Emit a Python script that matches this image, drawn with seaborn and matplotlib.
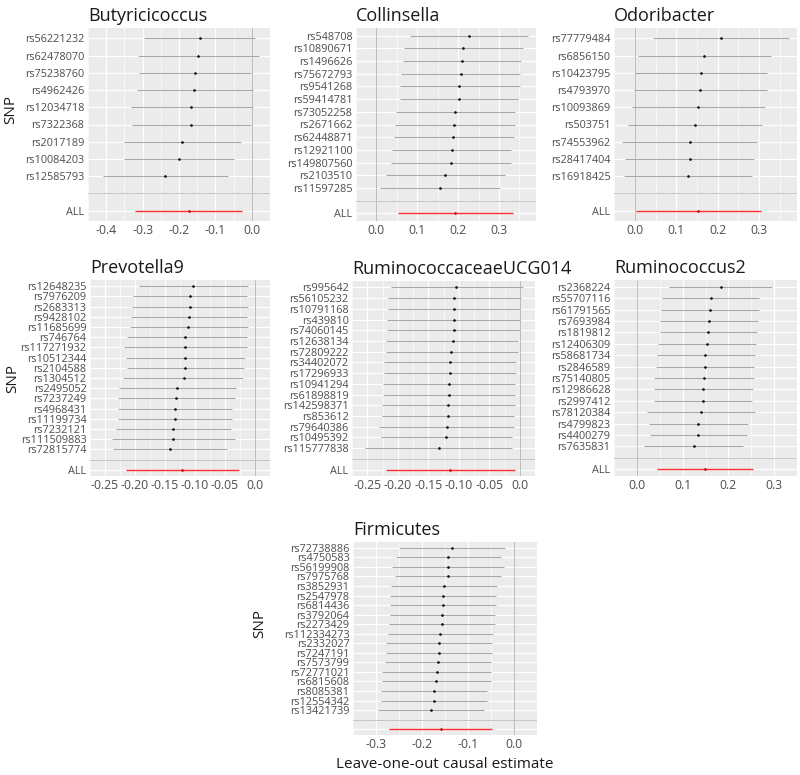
import numpy as np
import pandas as pd
import matplotlib
matplotlib.use("Agg")
import matplotlib.pyplot as plt
import seaborn as sns

# ---------------- data ----------------
butyr_snp = ["rs56221232", "rs62478070", "rs75238760", "rs4962426", "rs12034718",
             "rs7322368", "rs2017189", "rs10084203", "rs12585793"]
butyr_b = [-0.143, -0.147, -0.156, -0.158, -0.166, -0.167, -0.191, -0.201, -0.238]
butyr_lo = [-0.296, -0.314, -0.311, -0.316, -0.333, -0.329, -0.350, -0.352, -0.409]
butyr_hi = [0.010, 0.021, -0.001, 0.003, 0.002, -0.003, -0.031, -0.050, -0.066]
butyr_all = [-0.173, -0.321, -0.026]
butyr_ticks = [-0.4, -0.3, -0.2, -0.1, 0.0]
butyr_ticklabels = ["-0.4", "-0.3", "-0.2", "-0.1", "0.0"]

coll_snp = ["rs548708", "rs10890671", "rs1496626", "rs75672793", "rs9541268", "rs59414781",
            "rs73052258", "rs2671662", "rs62448871", "rs12921100", "rs149807560",
            "rs2103510", "rs11597285"]
coll_b = [0.226, 0.212, 0.209, 0.206, 0.203, 0.202, 0.192, 0.190, 0.188, 0.184, 0.183, 0.168, 0.155]
coll_lo = [0.081, 0.067, 0.064, 0.060, 0.057, 0.058, 0.047, 0.045, 0.042, 0.038, 0.036, 0.023, 0.009]
coll_hi = [0.372, 0.358, 0.354, 0.351, 0.351, 0.347, 0.338, 0.338, 0.336, 0.329, 0.329, 0.314, 0.302]
coll_all = [0.193, 0.054, 0.334]
coll_ticks = [0.0, 0.1, 0.2, 0.3]
coll_ticklabels = ["0.0", "0.1", "0.2", "0.3"]

odor_snp = ["rs77779484", "rs6856150", "rs10423795", "rs4793970", "rs10093869",
            "rs503751", "rs74553962", "rs28417404", "rs16918425"]
odor_b = [0.208, 0.167, 0.160, 0.158, 0.153, 0.145, 0.132, 0.132, 0.128]
odor_lo = [0.044, 0.006, 0.000, -0.002, -0.008, -0.017, -0.031, -0.024, -0.028]
odor_hi = [0.372, 0.328, 0.320, 0.320, 0.315, 0.308, 0.296, 0.288, 0.284]
odor_all = [0.153, 0.002, 0.304]
odor_ticks = [0.0, 0.1, 0.2, 0.3]
odor_ticklabels = ["0.0", "0.1", "0.2", "0.3"]

prev_snp = ["rs12648235", "rs7976209", "rs2683313", "rs9428102", "rs11685699", "rs746764",
            "rs117271932", "rs10512344", "rs2104588", "rs1304512", "rs2495052", "rs7237249",
            "rs4968431", "rs11199734", "rs7232121", "rs111509883", "rs72815774"]
prev_b = [-0.104, -0.108, -0.108, -0.110, -0.111, -0.116, -0.116, -0.117, -0.117, -0.119,
          -0.130, -0.132, -0.134, -0.134, -0.136, -0.136, -0.142]
prev_lo = [-0.194, -0.204, -0.205, -0.206, -0.209, -0.214, -0.218, -0.215, -0.214, -0.220,
           -0.227, -0.229, -0.229, -0.229, -0.231, -0.238, -0.236]
prev_hi = [-0.012, -0.013, -0.012, -0.013, -0.012, -0.014, -0.013, -0.017, -0.019, -0.020,
           -0.031, -0.034, -0.038, -0.038, -0.040, -0.033, -0.047]
prev_all = [-0.122, -0.215, -0.026]
prev_ticks = [-0.25, -0.20, -0.15, -0.10, -0.05, 0.0]
prev_ticklabels = ["-0.25", "-0.20", "-0.15", "-0.10", "-0.05", "0.0"]

rucg_snp = ["rs995642", "rs56105232", "rs10791168", "rs439810", "rs74060145", "rs12638134",
            "rs72809222", "rs34402072", "rs17296933", "rs10941294", "rs61898819",
            "rs142598371", "rs853612", "rs79640386", "rs10495392", "rs115777838"]
rucg_b = [-0.104, -0.107, -0.107, -0.108, -0.108, -0.110, -0.112, -0.114, -0.114, -0.116,
          -0.116, -0.118, -0.118, -0.120, -0.121, -0.133]
rucg_lo = [-0.211, -0.216, -0.216, -0.217, -0.217, -0.219, -0.219, -0.222, -0.222, -0.224,
           -0.224, -0.226, -0.226, -0.231, -0.227, -0.253]
rucg_hi = [0.005, 0.002, 0.000, 0.000, 0.000, -0.003, -0.003, -0.006, -0.006, -0.007,
           -0.007, -0.008, -0.009, -0.009, -0.012, -0.012]
rucg_all = [-0.114, -0.219, -0.008]
rucg_ticks = [-0.25, -0.20, -0.15, -0.10, -0.05, 0.0]
rucg_ticklabels = ["-0.25", "-0.20", "-0.15", "-0.10", "-0.05", "0.0"]

rum2_snp = ["rs2368224", "rs55707116", "rs61791565", "rs7693984", "rs1819812", "rs12406309",
            "rs58681734", "rs2846589", "rs75140805", "rs12986628", "rs2997412", "rs78120384",
            "rs4799823", "rs4400279", "rs7635831"]
rum2_b = [0.183, 0.161, 0.160, 0.157, 0.156, 0.154, 0.149, 0.148, 0.146, 0.145, 0.144,
          0.141, 0.134, 0.134, 0.124]
rum2_lo = [0.070, 0.054, 0.053, 0.051, 0.050, 0.047, 0.043, 0.042, 0.038, 0.038, 0.037,
           0.023, 0.026, 0.028, 0.016]
rum2_hi = [0.295, 0.267, 0.267, 0.264, 0.262, 0.261, 0.258, 0.256, 0.255, 0.253, 0.251,
           0.259, 0.243, 0.241, 0.231]
rum2_all = [0.149, 0.045, 0.253]
rum2_ticks = [0.0, 0.1, 0.2, 0.3]
rum2_ticklabels = ["0.0", "0.1", "0.2", "0.3"]

firm_snp = ["rs72738886", "rs4750583", "rs56199908", "rs7975768", "rs3852931", "rs2547978",
            "rs6814436", "rs3792064", "rs2273429", "rs112334273", "rs2332027", "rs7247191",
            "rs7573799", "rs72771021", "rs6815608", "rs8085381", "rs12554342", "rs13421739"]
firm_b = [-0.135, -0.144, -0.144, -0.144, -0.153, -0.154, -0.155, -0.156, -0.157, -0.160,
          -0.163, -0.163, -0.165, -0.168, -0.169, -0.175, -0.175, -0.181]
firm_lo = [-0.250, -0.257, -0.265, -0.258, -0.268, -0.269, -0.270, -0.270, -0.272, -0.275,
           -0.278, -0.278, -0.280, -0.287, -0.287, -0.289, -0.289, -0.295]
firm_hi = [-0.020, -0.029, -0.021, -0.029, -0.037, -0.039, -0.040, -0.042, -0.042, -0.045,
           -0.048, -0.048, -0.049, -0.049, -0.051, -0.059, -0.059, -0.066]
firm_all = [-0.159, -0.271, -0.048]
firm_ticks = [-0.3, -0.2, -0.1, 0.0]
firm_ticklabels = ["-0.3", "-0.2", "-0.1", "0.0"]

# ---------------- style ----------------
sns.set_theme(style="darkgrid", rc={
    "axes.facecolor": "#EBEBEB",
    "grid.color": "white",
    "axes.edgecolor": "none",
})
plt.rcParams["font.family"] = ["Open Sans", "DejaVu Sans"]

W, H = 800, 775
fig = plt.figure(figsize=(8, 7.75), dpi=100)
fig.patch.set_facecolor("white")


def rect(l, t, r, b):
    return [l / W, 1 - b / H, (r - l) / W, (b - t) / H]


def draw(box, title, snps, b, lo, hi, allv, ticks, ticklabels, all_label="ALL"):
    ax = fig.add_axes(rect(*box))
    n = len(snps)
    df = pd.DataFrame({"SNP": snps, "b": b, "lo": lo, "hi": hi})
    df["pos"] = n + 1 - np.arange(n)
    tot = pd.DataFrame({"SNP": ["ALL"], "b": [allv[0]], "lo": [allv[1]],
                        "hi": [allv[2]], "pos": [0]})

    ax.axvline(0, color="#b0b0b0", lw=0.6, zorder=1)
    ax.axhline(1, color="#c4c4c4", lw=0.7, zorder=1)
    ax.hlines(df["pos"], df["lo"], df["hi"], color="#a8a8a8", lw=0.75, zorder=2)
    ax.hlines(tot["pos"], tot["lo"], tot["hi"], color="#ff3030", lw=1.0, zorder=2)
    sns.scatterplot(data=df, x="b", y="pos", ax=ax, color="black", s=3.5,
                    linewidth=0, zorder=3, legend=False)
    sns.scatterplot(data=tot, x="b", y="pos", ax=ax, color="#c00000", s=3.5,
                    linewidth=0, zorder=3, legend=False)

    vals = np.concatenate([df["lo"], df["hi"], tot["lo"], tot["hi"], [0.0]])
    vmin, vmax = vals.min(), vals.max()
    pad = 0.05 * (vmax - vmin)
    ax.set_xlim(vmin - pad, vmax + pad)
    ax.set_ylim(-0.6, n + 1.6)

    ax.set_xticks(ticks, ticklabels)
    step = ticks[1] - ticks[0]
    mids = [ticks[0] - step / 2] + [t + step / 2 for t in ticks]
    ax.set_xticks(mids, minor=True)
    ylabels = [all_label, ""] + list(reversed(snps))
    ax.set_yticks(range(n + 2), ylabels)

    ax.grid(which="major", color="white", lw=0.9)
    ax.grid(which="minor", axis="x", color="white", lw=0.45)
    ax.tick_params(axis="x", which="major", labelsize=8.8, length=1.5, pad=1,
                   colors="#4d4d4d", width=0.5)
    ax.tick_params(axis="y", which="major", labelsize=7.8, length=1.5, pad=1,
                   colors="#4d4d4d", width=0.5)
    ax.tick_params(which="minor", length=0)
    ax.set_xlabel("")
    ax.set_ylabel("")
    for s in ax.spines.values():
        s.set_visible(False)
    ax.set_title(title, loc="left", fontsize=13, pad=5, color="#1a1a1a")
    return ax


draw((88, 28, 270, 221), "Butyricicoccus", butyr_snp, butyr_b, butyr_lo, butyr_hi,
     butyr_all, butyr_ticks, butyr_ticklabels)
draw((356, 28, 536, 221), "Collinsella", coll_snp, coll_b, coll_lo, coll_hi,
     coll_all, coll_ticks, coll_ticklabels)
draw((614, 28, 797, 221), "Odoribacter", odor_snp, odor_b, odor_lo, odor_hi,
     odor_all, odor_ticks, odor_ticklabels)
draw((90, 280, 270, 476), "Prevotella9", prev_snp, prev_b, prev_lo, prev_hi,
     prev_all, prev_ticks, prev_ticklabels)
draw((352, 281, 535, 476), "RuminococcaceaeUCG014", rucg_snp, rucg_b, rucg_lo, rucg_hi,
     rucg_all, rucg_ticks, rucg_ticklabels)
draw((614, 280, 797, 476), "Ruminococcus2", rum2_snp, rum2_b, rum2_lo, rum2_hi,
     rum2_all, rum2_ticks, rum2_ticklabels)
draw((353, 542, 537, 735), "Firmicutes", firm_snp, firm_b, firm_lo, firm_hi,
     firm_all, firm_ticks, firm_ticklabels, all_label="")

for (x, y) in [(11, 110), (13, 378), (260, 624)]:
    fig.text(x / W, 1 - y / H, "SNP", rotation=90, ha="center", va="center",
             fontsize=11, color="#1a1a1a")
fig.text(445 / W, 1 - 765 / H, "Leave-one-out causal estimate", ha="center",
         va="center", fontsize=11, color="#1a1a1a")

fig.savefig("out.png", dpi=100, facecolor="white")
